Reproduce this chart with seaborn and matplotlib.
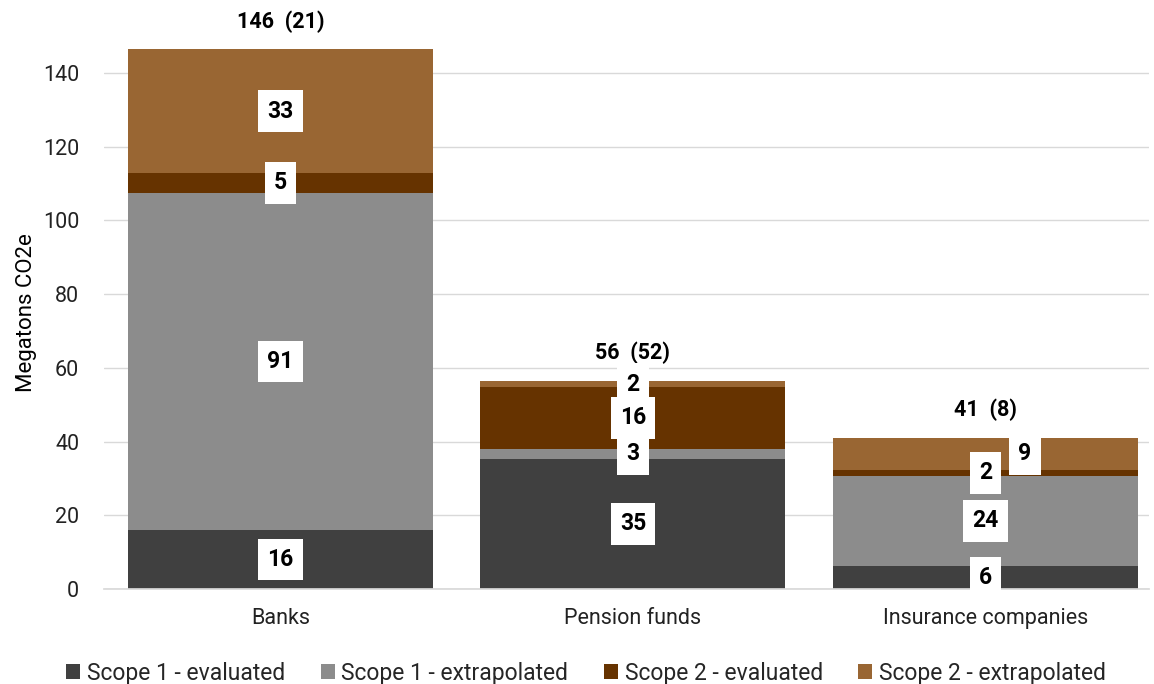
import numpy as np
import pandas as pd
import matplotlib
matplotlib.use('Agg')
import matplotlib.pyplot as plt
import seaborn as sns

# data
categories = ['Banks', 'Pension funds', 'Insurance companies']
series = ['Scope 1 - evaluated', 'Scope 1 - extrapolated',
          'Scope 2 - evaluated', 'Scope 2 - extrapolated']
s1_eval = [16.0, 35.3, 6.2]
s1_extrap = [91.5, 2.7, 24.5]
s2_eval = [5.4, 16.8, 1.6]
s2_extrap = [33.6, 1.6, 8.7]
seg_labels = [['16', '35', '6'], ['91', '3', '24'], ['5', '16', '2'], ['33', '2', '9']]
total_labels = ['146  (21)', '56  (52)', '41  (8)']

colors = ['#404040', '#8c8c8c', '#663300', '#996633']

values = [s1_eval, s1_extrap, s2_eval, s2_extrap]
df = pd.DataFrame({'category': categories})
for name, vals in zip(series, values):
    df[name] = vals

sns.set_theme(style='whitegrid')
plt.rcParams['font.family'] = ['Roboto', 'DejaVu Sans']

fig = plt.figure(figsize=(11.54, 6.84), dpi=100)
ax = fig.add_axes([0.0903, 0.139, 0.905, 0.808])

bottom = np.zeros(len(categories))
for name, col in zip(series, colors):
    sns.barplot(data=df, x='category', y=name, color=col, bottom=bottom,
                width=0.865, ax=ax, label=name, saturation=1, linewidth=0)
    bottom = bottom + df[name].values

# segment labels in white boxes
xoff = {(3, 2): 0.112}
bottom = np.zeros(len(categories))
for i, name in enumerate(series):
    v = df[name].values
    for j in range(len(categories)):
        ax.text(j + xoff.get((i, j), 0), bottom[j] + v[j] / 2, seg_labels[i][j],
                ha='center', va='center', fontsize=16.5, fontweight='bold', color='black',
                bbox=dict(boxstyle='square,pad=0.4', fc='white', ec='none'), zorder=5)
    bottom = bottom + v

for j, t in enumerate(total_labels):
    ax.text(j, bottom[j] + 4.5, t, ha='center', va='bottom', fontsize=15.5,
            fontweight='bold', color='black')

ax.set_xlim(-0.5, 2.463)
ax.set_ylim(0, 150)
ax.set_yticks(np.arange(0, 141, 20))
ax.set_xlabel('')
ax.set_ylabel('Megatons CO2e', fontsize=16, color='black', labelpad=4)
ax.tick_params(axis='both', labelsize=15.5, colors='#222222', length=0)
ax.tick_params(axis='y', pad=18)
ax.tick_params(axis='x', pad=14)
ax.grid(axis='y', color='#d9d9d9', linewidth=1)
ax.grid(axis='x', visible=False)
for s in ['top', 'right', 'left']:
    ax.spines[s].set_visible(False)
ax.spines['bottom'].set_color('#d9d9d9')
ax.set_axisbelow(True)

handles, labels = ax.get_legend_handles_labels()
fig.legend(handles, labels, loc='lower center', ncol=4, frameon=False,
           fontsize=16.5, bbox_to_anchor=(0.508, -0.031), handlelength=0.6,
           handleheight=0.6, handletextpad=0.3, columnspacing=1.55)
if ax.get_legend() is not None:
    ax.get_legend().remove()

plt.savefig('out.png', dpi=100)
plt.close()
